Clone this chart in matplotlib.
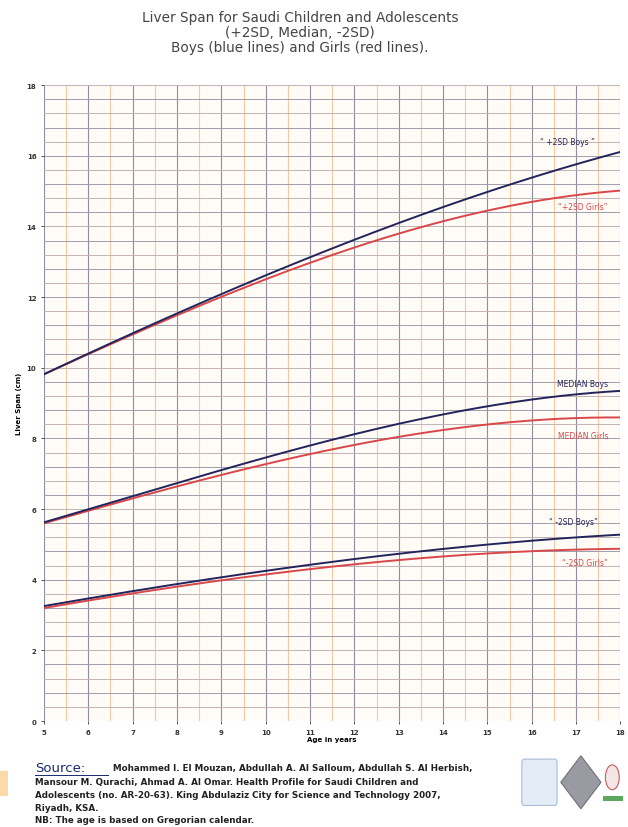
import matplotlib.pyplot as plt
import matplotlib.patches as mpatches
import numpy as np

ages = [5, 6, 7, 8, 9, 10, 11, 12, 13, 14, 15, 16, 17, 18]
boys_p2sd = [9.8, 10.4, 11.0, 11.55, 12.1, 12.6, 13.1, 13.6, 14.1, 14.55, 15.0, 15.4, 15.75, 16.1]
girls_p2sd = [9.8, 10.4, 10.95, 11.5, 12.0, 12.5, 12.95, 13.4, 13.8, 14.15, 14.45, 14.7, 14.9, 15.0]
boys_med = [5.6, 6.0, 6.4, 6.75, 7.1, 7.45, 7.78, 8.1, 8.4, 8.68, 8.93, 9.12, 9.26, 9.32]
girls_med = [5.6, 5.95, 6.3, 6.64, 6.96, 7.27, 7.56, 7.82, 8.05, 8.24, 8.39, 8.5, 8.57, 8.6]
boys_m2sd = [3.25, 3.47, 3.68, 3.88, 4.07, 4.25, 4.42, 4.58, 4.73, 4.87, 5.0, 5.11, 5.2, 5.27]
girls_m2sd = [3.2, 3.41, 3.61, 3.8, 3.98, 4.15, 4.3, 4.44, 4.56, 4.66, 4.74, 4.8, 4.85, 4.88]

BOY = "#22245c"
GIRL = "#d8474a"

fig = plt.figure(figsize=(6.28, 8.28), dpi=100)
ax = fig.add_axes([0.070, 0.128, 0.918, 0.768], facecolor="#fffbf6")

# grid: gray lines on whole years, orange on half years, dense horizontals
for x in np.arange(5, 18.01, 1):
    ax.axvline(x, color="#8e8e9e", lw=0.8, zorder=1)
for x in np.arange(5.5, 18, 1):
    ax.axvline(x, color="#f6c8a4", lw=0.8, zorder=1)
for i, y in enumerate(np.arange(0, 18.01, 0.4)):
    ax.axhline(y, color="#9e9eaa" if i % 2 == 0 else "#c6b2b4", lw=0.7, zorder=1)

# smooth the curves between the yearly readings
xs = np.linspace(5, 18, 300)
def smooth(vals):
    coef = np.polyfit(ages, vals, 3)
    return np.polyval(coef, xs)

for yb, yg in [(boys_p2sd, girls_p2sd), (boys_med, girls_med), (boys_m2sd, girls_m2sd)]:
    ax.plot(xs, smooth(yg), color=GIRL, lw=1.4, zorder=3)
    ax.plot(xs, smooth(yb), color=BOY, lw=1.4, zorder=4)

lab = dict(fontsize=5.5, ha="center", va="center", zorder=5)
ax.text(16.8, 16.4, "“ +2SD Boys ”", color=BOY, **lab)
ax.text(17.15, 14.55, "“+2SD Girls”", color=GIRL, **lab)
ax.text(17.15, 9.55, "MEDIAN Boys", color=BOY, **lab)
ax.text(17.15, 8.07, "MEDIAN Girls", color=GIRL, **lab)
ax.text(16.95, 5.66, "“ -2SD Boys”", color=BOY, **lab)
ax.text(17.2, 4.5, "“-2SD Girls”", color=GIRL, **lab)

ax.set_xlim(5, 18)
ax.set_ylim(0, 18)
ax.set_xticks(range(5, 19))
ax.set_yticks(range(0, 19, 2))
ax.tick_params(labelsize=5, length=2, width=0.6, colors="#333333")
for t in ax.get_xticklabels() + ax.get_yticklabels():
    t.set_fontweight("bold")
for s in ax.spines.values():
    s.set_visible(False)
ax.set_xlabel("Age in years", fontsize=5, fontweight="bold", labelpad=1)
ax.set_ylabel("Liver Span (cm)", fontsize=5, fontweight="bold", labelpad=3)

title_kw = dict(ha="center", va="center", fontsize=9.8, color="#444444")
fig.text(0.478, 0.978, "Liver Span for Saudi Children and Adolescents", **title_kw)
fig.text(0.478, 0.960, "(+2SD, Median, -2SD)", **title_kw)
fig.text(0.478, 0.942, "Boys (blue lines) and Girls (red lines).", **title_kw)

src_kw = dict(fontsize=6.3, fontweight="bold", va="center", color="#222222")
fig.text(0.056, 0.072, "Source:", fontsize=9.5, color="#1a2a70", va="center")
fig.add_artist(plt.Line2D([0.056, 0.172], [0.063, 0.063], color="#1a2a70", lw=0.7))
fig.text(0.180, 0.072, "Mohammed I. El Mouzan, Abdullah A. Al Salloum, Abdullah S. Al Herbish,",
         **src_kw)
fig.text(0.056, 0.055, "Mansour M. Qurachi, Ahmad A. Al Omar. Health Profile for Saudi Children and",
         **src_kw)
fig.text(0.056, 0.039, "Adolescents (no. AR-20-63). King Abdulaziz City for Science and Technology 2007,",
         **src_kw)
fig.text(0.056, 0.023, "Riyadh, KSA.", **src_kw)
fig.text(0.056, 0.009, "NB: The age is based on Gregorian calendar.", **src_kw)

# logos at the bottom right, drawn as simple shapes
fig.add_artist(mpatches.FancyBboxPatch((0.835, 0.030), 0.048, 0.048,
               boxstyle="round,pad=0.004", fc="#e4ecf6", ec="#a8bcd8", lw=0.8))
fig.add_artist(mpatches.RegularPolygon((0.925, 0.054), 4, radius=0.032,
               fc="#9a9aa2", ec="#707078", lw=0.8))
fig.add_artist(mpatches.Ellipse((0.975, 0.060), 0.022, 0.030, fc="#f4e6e6",
               ec="#c85a5a", lw=0.8))
fig.add_artist(mpatches.Rectangle((0.960, 0.032), 0.032, 0.006, fc="#5aa860", ec="none"))
fig.add_artist(mpatches.Rectangle((0.0, 0.038), 0.012, 0.030, fc="#fbd9a8", ec="none"))

fig.savefig("out.png", dpi=100)
